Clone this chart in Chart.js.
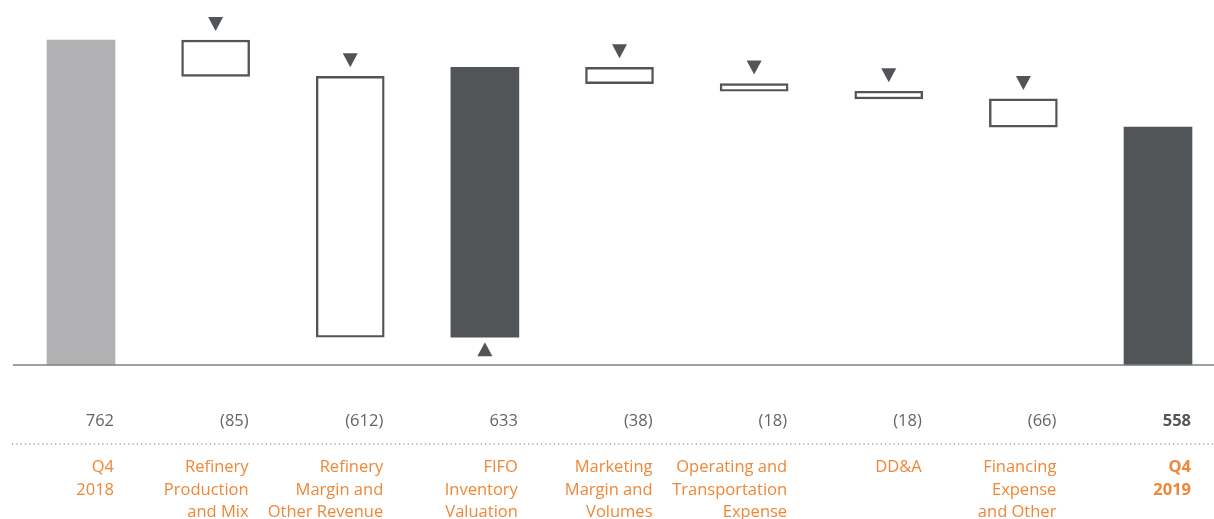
<!DOCTYPE html>
<html>
<head>
<meta charset="utf-8">
<script src="https://cdn.jsdelivr.net/npm/chart.js@4.4.1/dist/chart.umd.min.js"></script>
<style>
html, body { margin:0; padding:0; background:#fff; }
</style>
</head>
<body>
<canvas id="bridge_chart" width="1214" height="519"></canvas>
<script>
// categories (one entry per line of the label)
const categoryLines = [
	['Q4', '2018'],
	['Refinery', 'Production', 'and Mix'],
	['Refinery', 'Margin and', 'Other Revenue'],
	['FIFO', 'Inventory', 'Valuation'],
	['Marketing', 'Margin and', 'Volumes'],
	['Operating and', 'Transportation', 'Expense'],
	['DD&A'],
	['Financing', 'Expense', 'and Other'],
	['Q4', '2019']
];
const amounts = [762, -85, -612, 633, -38, -18, -18, -66, 558]; //값
const isTotal = [true, false, false, false, false, false, false, false, true];

// colours
const lightGray = '#b1b1b3';
const darkGray = '#525558';
const orange = '#ef8738';
const valueGray = '#646464';

// floating ranges from running total
const ranges = [];
let running = 0;
amounts.forEach(function (v, i) {
	if (isTotal[i]) {
		ranges.push([0, v]);
		running = v;
	} else {
		ranges.push([Math.min(running, running + v), Math.max(running, running + v)]);
		running += v;
	}
});

function fillFor(i) {
	if (isTotal[i]) return i === 0 ? lightGray : darkGray;
	return amounts[i] > 0 ? darkGray : '#ffffff';
}
function borderFor(i) {
	return (!isTotal[i] && amounts[i] < 0) ? 2.4 : 0;
}
function fmt(v) {
	return v < 0 ? '(' + Math.abs(v) + ')' : String(v);
}

const FONT = '"Open Sans", "Noto Sans", sans-serif';

const bridgeDecor = {
	id: 'bridgeDecor',
	afterDatasetsDraw(chart) {
		const ctx = chart.ctx;
		const meta = chart.getDatasetMeta(0);
		const zeroY = chart.scales.y.getPixelForValue(0);
		ctx.save();

		// baseline
		ctx.strokeStyle = '#808080';
		ctx.lineWidth = 1.6;
		ctx.beginPath();
		ctx.moveTo(13, zeroY);
		ctx.lineTo(chart.width, zeroY);
		ctx.stroke();

		// dotted separator
		ctx.strokeStyle = '#7a7a7a';
		ctx.lineWidth = 1.2;
		ctx.setLineDash([1.3, 3]);
		ctx.beginPath();
		ctx.moveTo(12, 444);
		ctx.lineTo(chart.width, 444);
		ctx.stroke();
		ctx.setLineDash([]);

		meta.data.forEach(function (bar, i) {
			const right = bar.x + bar.width / 2 - 1;

			// direction markers
			if (!isTotal[i]) {
				const top = Math.min(bar.y, bar.base);
				const bottom = Math.max(bar.y, bar.base);
				ctx.fillStyle = darkGray;
				ctx.beginPath();
				if (amounts[i] < 0) {
					ctx.moveTo(bar.x - 7.5, top - 23);
					ctx.lineTo(bar.x + 7.5, top - 23);
					ctx.lineTo(bar.x, top - 9);
				} else {
					ctx.moveTo(bar.x - 7.5, bottom + 19);
					ctx.lineTo(bar.x + 7.5, bottom + 19);
					ctx.lineTo(bar.x, bottom + 5);
				}
				ctx.closePath();
				ctx.fill();
			}

			// values
			const last = i === amounts.length - 1;
			ctx.textAlign = 'right';
			ctx.textBaseline = 'alphabetic';
			ctx.fillStyle = last ? '#555555' : valueGray;
			ctx.font = (last ? 'bold ' : '') + '16.5px ' + FONT;
			ctx.fillText(fmt(amounts[i]), right, 426);

			// category labels
			ctx.fillStyle = orange;
			ctx.font = (last ? 'bold ' : '') + '16.5px ' + FONT;
			categoryLines[i].forEach(function (line, j) {
				ctx.fillText(line, right, 472 + j * 22.5);
			});
		});
		ctx.restore();
	}
};

const barChart = document.getElementById('bridge_chart').getContext('2d');
const bridge_chart = new Chart(barChart, {
	plugins: [bridgeDecor],
	type: 'bar',
	data: {
		labels: categoryLines.map(function (l) { return l.join(' '); }),
		datasets: [{
			data: ranges,
			backgroundColor: amounts.map(function (v, i) { return fillFor(i); }),
			borderColor: darkGray,
			borderWidth: amounts.map(function (v, i) { return borderFor(i); }),
			borderSkipped: false,
			barThickness: 68,
			clip: false
		}]
	},
	options: {
		responsive: false,
		animation: false,
		layout: {
			padding: { left: 81, right: 56, top: 0, bottom: 154 }
		},
		scales: {
			x: { display: false, offset: false, grid: { display: false } },
			y: { display: false, min: 0, max: 856 }
		},
		plugins: {
			legend: { display: false },
			tooltip: { enabled: false }
		}
	}
});
</script>
</body>
</html>
